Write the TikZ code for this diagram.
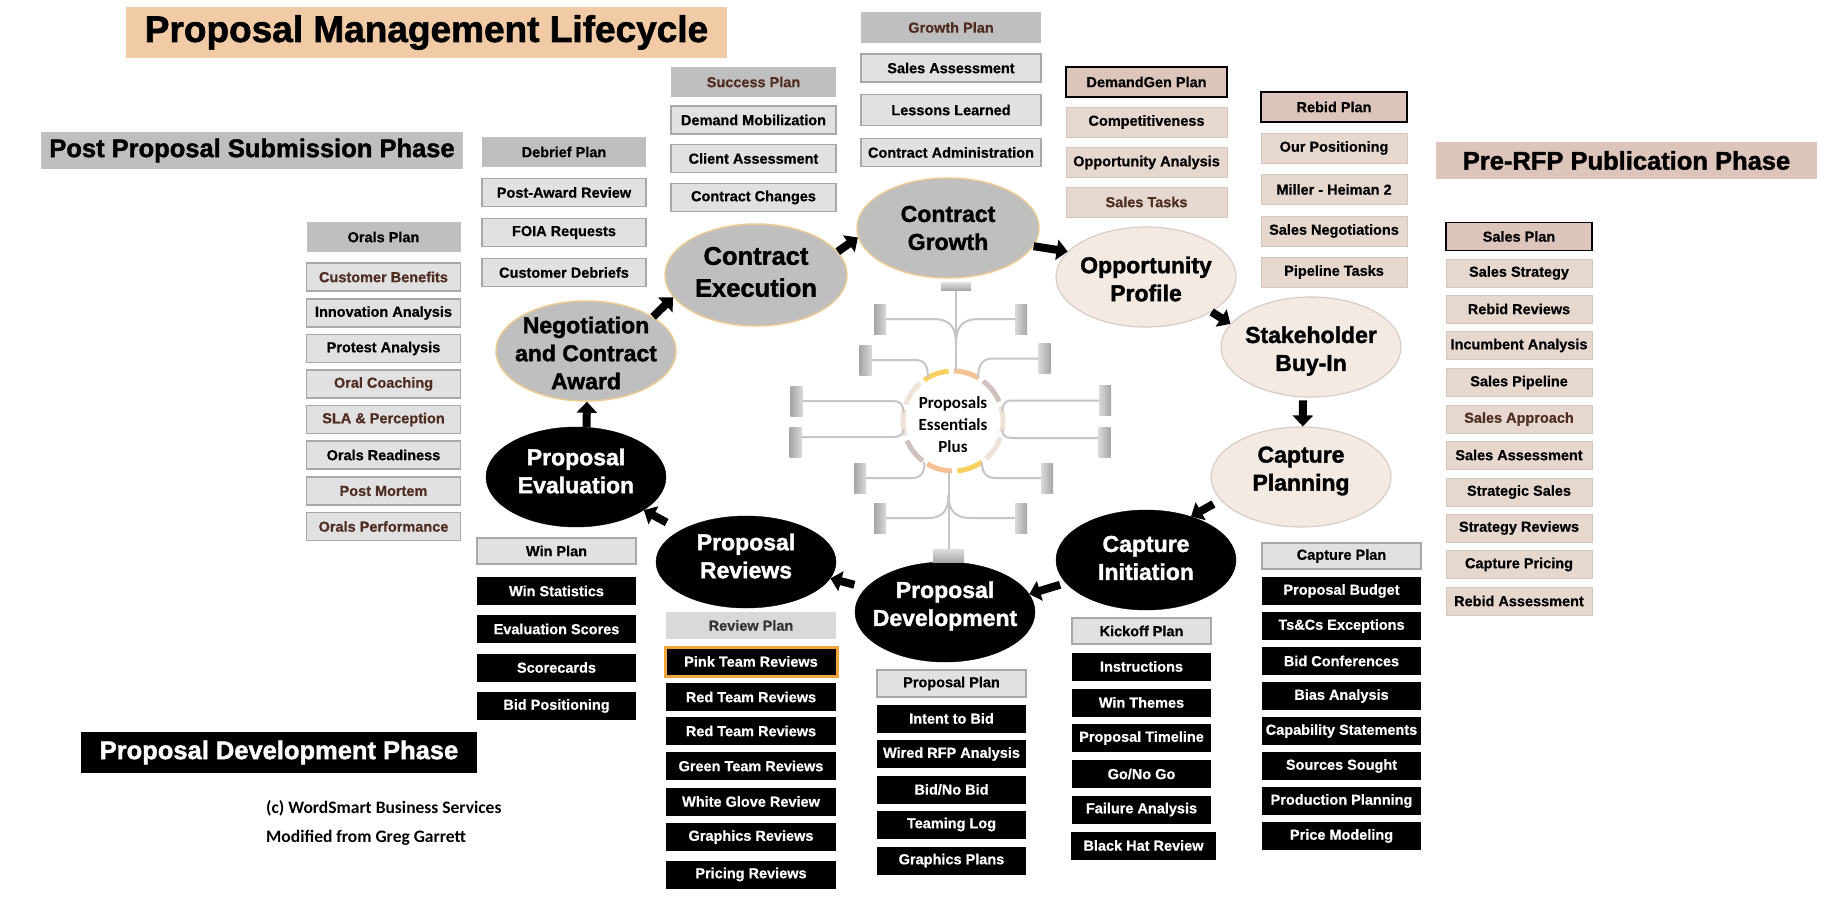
\documentclass[tikz,border=0pt]{standalone}
\usepackage{fontspec}
\setmainfont{Liberation Sans}[BoldFeatures={FakeBold=0.6}]
\newfontfamily\heavyfont{Liberation Sans}[BoldFeatures={FakeBold=1.6}]
\newfontfamily\calfont{Carlito}
\usetikzlibrary{shapes.geometric,arrows.meta}
\definecolor{hdgray}{HTML}{BFBFBF}
\definecolor{ltgray}{HTML}{E1E1E1}
\definecolor{bdgray}{HTML}{A8A8A8}
\definecolor{rvgray}{HTML}{D9D9D9}
\definecolor{pinkhd}{HTML}{DEC5BB}
\definecolor{pinklt}{HTML}{E6D8CF}
\definecolor{pinkbd}{HTML}{D6C5BC}
\definecolor{brn}{HTML}{4F2C22}
\definecolor{titlec}{HTML}{F0CBA6}
\definecolor{ellbd}{HTML}{EBCB94}
\definecolor{beigef}{HTML}{F2EAE3}
\definecolor{beigebd}{HTML}{D9CCC4}
\definecolor{orng}{HTML}{F0A43C}
\definecolor{ryel}{HTML}{F8D060}
\definecolor{rpch}{HTML}{F6C293}
\definecolor{rgry}{HTML}{CFC2BC}
\definecolor{rlit}{HTML}{EFE3D8}
\definecolor{lnkc}{HTML}{C6C6C6}
\begin{document}
\begin{tikzpicture}[x=1pt,y=-1pt,
  base/.style={rectangle, inner sep=0pt, minimum height=28, align=center,
    font=\fontsize{14.5}{17}\selectfont\bfseries},
  bw/.style={minimum width=#1},
  ghead/.style={base, fill=hdgray, minimum height=30},
  lbox/.style={base, fill=ltgray, draw=bdgray, line width=1.2},
  blk/.style={base, fill=black, text=white},
  pbox/.style={base, fill=pinklt, draw=pinkbd, line width=1},
  phead/.style={base, fill=pinkhd, draw=black, line width=1.5},
  phase/.style={rectangle, inner sep=0pt, minimum height=37,
    font=\heavyfont\fontsize{25.5}{28}\selectfont\bfseries},
  ellshape/.style={ellipse, inner sep=0pt, minimum width=180, minimum height=100},
  ellg/.style={ellshape, fill=hdgray, draw=ellbd, line width=1.5},
  ellb/.style={ellshape, fill=black, draw=black},
  elle/.style={ellshape, fill=beigef, draw=beigebd, line width=1.2},
  etxt/.style={inner sep=0pt, align=center, font=\heavyfont\fontsize{23}{28}\selectfont\bfseries},
  barrow/.style={draw=black, line width=8pt, -{Triangle[width=20pt,length=11pt]}},
  cbarL/.style={rectangle, inner sep=0pt, minimum width=12, minimum height=30, left color=gray!70, right color=gray!30},
  cbarR/.style={rectangle, inner sep=0pt, minimum width=12, minimum height=30, left color=gray!30, right color=gray!70},
  lnk/.style={draw=lnkc, line width=2},
]
\fill[white] (0,0) rectangle (1830,897);
\useasboundingbox (0,0) rectangle (1830,897);

% ---- titles and phases
\node[rectangle, fill=titlec, minimum width=601, minimum height=51, inner sep=0pt,
  font=\heavyfont\fontsize{37}{40}\selectfont\bfseries] (title) at (426.5,32.5) {Proposal Management Lifecycle};
\node[phase, fill=hdgray, minimum width=422] (ppsp) at (252,150.5) {Post Proposal Submission Phase};
\node[phase, fill=pinkhd, minimum width=381] (prfp) at (1626.5,160.5) {Pre-RFP Publication Phase};
\node[phase, fill=black, text=white, minimum width=396, minimum height=41] (pdp) at (279,752.5) {Proposal Development Phase};
\node[anchor=west, inner sep=0pt, font=\calfont\fontsize{17.5}{20}\selectfont\bfseries] (copy1) at (266,808) {(c) WordSmart Business Services};
\node[anchor=west, inner sep=0pt, font=\calfont\fontsize{17.5}{20}\selectfont\bfseries] (copy2) at (266,838) {Modified from Greg Garrett};

% ---- column A: Orals
\node[ghead, bw=154] (a0) at (383.5,237) {Orals Plan};
\node[lbox, bw=154, text=brn] (a1) at (383.5,277) {Customer Benefits};
\node[lbox, bw=154] (a2) at (383.5,313) {Innovation Analysis};
\node[lbox, bw=154] (a3) at (383.5,348.5) {Protest Analysis};
\node[lbox, bw=154, text=brn] (a4) at (383.5,384) {Oral Coaching};
\node[lbox, bw=154, text=brn] (a5) at (383.5,419.5) {SLA \& Perception};
\node[lbox, bw=154] (a6) at (383.5,455) {Orals Readiness};
\node[lbox, bw=154, text=brn] (a7) at (383.5,491) {Post Mortem};
\node[lbox, bw=154, text=brn] (a8) at (383.5,526.5) {Orals Performance};

% ---- column B: Debrief
\node[ghead, bw=164] (b0) at (564,152) {Debrief Plan};
\node[lbox, bw=164] (b1) at (564,192.5) {Post-Award Review};
\node[lbox, bw=164] (b2) at (564,232.5) {FOIA Requests};
\node[lbox, bw=164] (b3) at (564,272.5) {Customer Debriefs};

% ---- column C: Success
\node[ghead, bw=165, text=brn] (c0) at (753.5,82) {Success Plan};
\node[lbox, bw=165] (c1) at (753.5,120) {Demand Mobilization};
\node[lbox, bw=165] (c2) at (753.5,158.5) {Client Assessment};
\node[lbox, bw=165] (c3) at (753.5,197.5) {Contract Changes};

% ---- column D: Growth
\node[ghead, bw=180, text=brn, minimum height=31] (d0) at (951,27.5) {Growth Plan};
\node[lbox, bw=180] (d1) at (951,68) {Sales Assessment};
\node[lbox, bw=180, minimum height=31] (d2) at (951,110) {Lessons Learned};
\node[lbox, bw=180] (d3) at (951,152.5) {Contract Administration};

% ---- column E: DemandGen
\node[phead, bw=161, minimum height=30] (e0) at (1146.5,82) {DemandGen Plan};
\node[pbox, bw=161, minimum height=30] (e1) at (1146.5,122) {Competitiveness};
\node[pbox, bw=161, minimum height=30] (e2) at (1146.5,162.5) {Opportunity Analysis};
\node[pbox, bw=161, minimum height=30, text=brn] (e3) at (1146.5,202) {Sales Tasks};

% ---- column F: Rebid
\node[phead, bw=146, minimum height=30] (f0) at (1334,107) {Rebid Plan};
\node[pbox, bw=146, minimum height=30] (f1) at (1334,148) {Our Positioning};
\node[pbox, bw=146, minimum height=30] (f2) at (1334,189.5) {Miller - Heiman 2};
\node[pbox, bw=146, minimum height=30] (f3) at (1334,231) {Sales Negotiations};
\node[pbox, bw=146, minimum height=30] (f4) at (1334,272) {Pipeline Tasks};

% ---- column G: Sales
\node[phead, bw=146] (g0) at (1519,236.5) {Sales Plan};
\node[pbox, bw=146] (g1) at (1519,273) {Sales Strategy};
\node[pbox, bw=146] (g2) at (1519,309) {Rebid Reviews};
\node[pbox, bw=146] (g3) at (1519,345.5) {Incumbent Analysis};
\node[pbox, bw=146] (g4) at (1519,382.5) {Sales Pipeline};
\node[pbox, bw=146, text=brn] (g5) at (1519,419) {Sales Approach};
\node[pbox, bw=146] (g6) at (1519,455) {Sales Assessment};
\node[pbox, bw=146] (g7) at (1519,492) {Strategic Sales};
\node[pbox, bw=146] (g8) at (1519,528) {Strategy Reviews};
\node[pbox, bw=146] (g9) at (1519,564.5) {Capture Pricing};
\node[pbox, bw=146] (g10) at (1519,601) {Rebid Assessment};

% ---- column H: Capture
\node[lbox, bw=159, minimum height=26] (h0) at (1341.5,556) {Capture Plan};
\node[blk, bw=159] (h1) at (1341.5,591) {Proposal Budget};
\node[blk, bw=159] (h2) at (1341.5,626) {Ts\&Cs Exceptions};
\node[blk, bw=159] (h3) at (1341.5,661) {Bid Conferences};
\node[blk, bw=159] (h4) at (1341.5,696) {Bias Analysis};
\node[blk, bw=159] (h5) at (1341.5,731) {Capability Statements};
\node[blk, bw=159] (h6) at (1341.5,766) {Sources Sought};
\node[blk, bw=159] (h7) at (1341.5,801) {Production Planning};
\node[blk, bw=159] (h8) at (1341.5,836) {Price Modeling};

% ---- column I: Kickoff
\node[lbox, bw=139, minimum height=26] (i0) at (1141.5,631) {Kickoff Plan};
\node[blk, bw=139] (i1) at (1141.5,666.5) {Instructions};
\node[blk, bw=139] (i2) at (1141.5,702.5) {Win Themes};
\node[blk, bw=139] (i3) at (1141.5,738) {Proposal Timeline};
\node[blk, bw=139] (i4) at (1141.5,774) {Go/No Go};
\node[blk, bw=139] (i5) at (1141.5,809.5) {Failure Analysis};
\node[blk, bw=145] (i6) at (1143.5,845.5) {Black Hat Review};

% ---- column J: Proposal Plan
\node[lbox, bw=149, minimum height=27] (j0) at (951.5,683.5) {Proposal Plan};
\node[blk, bw=149] (j1) at (951.5,718.5) {Intent to Bid};
\node[blk, bw=149] (j2) at (951.5,754) {Wired RFP Analysis};
\node[blk, bw=149] (j3) at (951.5,789.5) {Bid/No Bid};
\node[blk, bw=149] (j4) at (951.5,824.5) {Teaming Log};
\node[blk, bw=149] (j5) at (951.5,860.5) {Graphics Plans};

% ---- column K: Review
\node[base, fill=rvgray, text=black!80, bw=170, minimum height=27] (k0) at (751,625.5) {Review Plan};
\node[blk, bw=172, minimum height=29, draw=orng, line width=3] (k1) at (751,661.5) {Pink Team Reviews};
\node[blk, bw=170] (k2) at (751,697) {Red Team Reviews};
\node[blk, bw=170] (k3) at (751,731) {Red Team Reviews};
\node[blk, bw=170] (k4) at (751,766) {Green Team Reviews};
\node[blk, bw=170] (k5) at (751,801.5) {White Glove Review};
\node[blk, bw=170] (k6) at (751,837) {Graphics Reviews};
\node[blk, bw=170] (k7) at (751,874.5) {Pricing Reviews};

% ---- column L: Win
\node[lbox, bw=159, minimum height=26] (l0) at (556.5,551) {Win Plan};
\node[blk, bw=159] (l1) at (556.5,591) {Win Statistics};
\node[blk, bw=159] (l2) at (556.5,629) {Evaluation Scores};
\node[blk, bw=159] (l3) at (556.5,667.5) {Scorecards};
\node[blk, bw=159] (l4) at (556.5,706) {Bid Positioning};

% ---- lifecycle ellipses
\node[ellg, minimum width=182] (cg) at (948,228) {};
\node[ellg, minimum width=182, minimum height=102] (ce) at (756,275) {};
\node[ellg] (neg) at (586,351) {};
\node[ellb] (pe) at (576,477) {};
\node[ellb, minimum height=92] (pr) at (746,562) {};
\node[ellb] (pd) at (945,612) {};
\node[ellb] (ci) at (1146,560) {};
\node[elle] (cp) at (1301,477) {};
\node[elle] (sh) at (1311,347) {};
\node[elle] (op) at (1146,277) {};

\node[etxt] (cg-t) at (cg.center) {Contract\\Growth};
\node[etxt, font=\heavyfont\fontsize{25.5}{32}\selectfont\bfseries, yshift=3pt] (ce-t) at (ce.center) {Contract\\Execution};
\node[etxt, yshift=-2pt] (neg-t) at (neg.center) {Negotiation\\and Contract\\Award};
\node[etxt, text=white, yshift=6pt] (pe-t) at (pe.center) {Proposal\\Evaluation};
\node[etxt, text=white, yshift=6pt] (pr-t) at (pr.center) {Proposal\\Reviews};
\node[etxt, text=white, yshift=6pt] (pd-t) at (pd.center) {Proposal\\Development};
\node[etxt, text=white, yshift=2pt] (ci-t) at (ci.center) {Capture\\Initiation};
\node[etxt, yshift=6pt] (cp-t) at (cp.center) {Capture\\Planning};
\node[etxt, yshift=-4pt] (sh-t) at (sh.center) {Stakeholder\\Buy-In};
\node[etxt, yshift=-2pt] (op-t) at (op.center) {Opportunity\\Profile};

% ---- block arrows
\draw[barrow] (neg.27) -- (ce.195);
\draw[barrow] (ce.16) -- (cg.186);
\draw[barrow] (cg.348) -- (op.162);
\draw[barrow] (op.332) -- (sh.164);
\draw[barrow, shorten <=3pt] (sh.261) -- (cp.88);
\draw[barrow, shorten <=8pt] (cp.196) -- (ci.44);
\draw[barrow, shorten <=6pt] (ci.196) -- (pd.12);
\draw[barrow, shorten <=12pt] (pd.163) -- (pr.349);
\draw[barrow, shorten <=16pt] (pr.154) -- (pe.334);
\draw[barrow] (pe.78) -- (neg.271);

% ---- central hub
\node[circle, minimum size=100, inner sep=0pt] (ring) at (953,421) {};
\node[inner sep=0pt, align=center, yshift=-4pt,
  font=\calfont\fontsize{17}{22}\selectfont\bfseries] (ring-t) at (ring.center) {Proposals\\Essentials\\Plus};
\foreach \a/\col in {-110/ryel,-74/rpch,-38/rgry,-2/rlit,34/rlit,70/ryel,106/rpch,142/rgry,178/rlit,-146/rlit}{
  \draw[line width=5, \col, shift={(953,421)}] plot[domain={\a-15}:{\a+15}, samples=16, smooth] ({50*cos(\x)},{50*sin(\x)});
}
\node[rectangle, inner sep=0pt, minimum width=30, minimum height=8, top color=gray!25, bottom color=gray!70] (tstub) at (956,286.5) {};
\node[rectangle, inner sep=0pt, minimum width=31, minimum height=13, top color=gray!25, bottom color=gray!70] (bstub) at (948.5,555.5) {};
\node[cbarL] (b1L) at (880,319) {};
\node[cbarR] (b1R) at (1021,319) {};
\node[cbarL] (b2L) at (865.5,360) {};
\node[cbarR] (b2R) at (1044.5,358.5) {};
\node[cbarL] (b3L) at (796.5,401) {};
\node[cbarR] (b3R) at (1105,400.5) {};
\node[cbarL] (b4L) at (795.5,442) {};
\node[cbarR] (b4R) at (1104.5,442) {};
\node[cbarL] (b5L) at (860,478) {};
\node[cbarR] (b5R) at (1047,478) {};
\node[cbarL] (b6L) at (880,518) {};
\node[cbarR] (b6R) at (1021,518) {};

\draw[lnk] (tstub.south) -- (tstub.south |- ring.north);
\draw[lnk] (b1L.east) -- (932,319) .. controls (950,319) and (956,326) .. (956,345);
\draw[lnk] (b1R.west) -- (980,319) .. controls (962,319) and (956,326) .. (956,345);
\draw[lnk] (b2L.east) -- (915,360) .. controls (925,360) and (928,366) .. (ring.120);
\draw[lnk] (b2R.west) -- (992,358.5) .. controls (982,358.5) and (978,366) .. (ring.60);
\draw[lnk] (b3L.east) -- (893,401) .. controls (900,401) and (903,404) .. (ring.170);
\draw[lnk] (b3R.west) -- (1012,400.5) .. controls (1005,400.5) and (1002,404) .. (ring.10);
\draw[lnk] ([yshift=5pt]b4L.east) -- (893,437) .. controls (900,437) and (903,434) .. (ring.190);
\draw[lnk] ([yshift=4pt]b4R.west) -- (1012,438) .. controls (1005,438) and (1002,435) .. (ring.350);
\draw[lnk] (b5L.east) -- (912,478) .. controls (922,478) and (925,471) .. (ring.235);
\draw[lnk] (b5R.west) -- (995,478) .. controls (985,478) and (982,471) .. (ring.305);
\draw[lnk] (bstub.north) -- (bstub.north |- ring.south);
\draw[lnk] (b6L.east) -- (928,518) .. controls (943,518) and (948.5,510) .. (948.5,495);
\draw[lnk] (b6R.west) -- (970,518) .. controls (955,518) and (948.5,510) .. (948.5,495);
\end{tikzpicture}
\end{document}
